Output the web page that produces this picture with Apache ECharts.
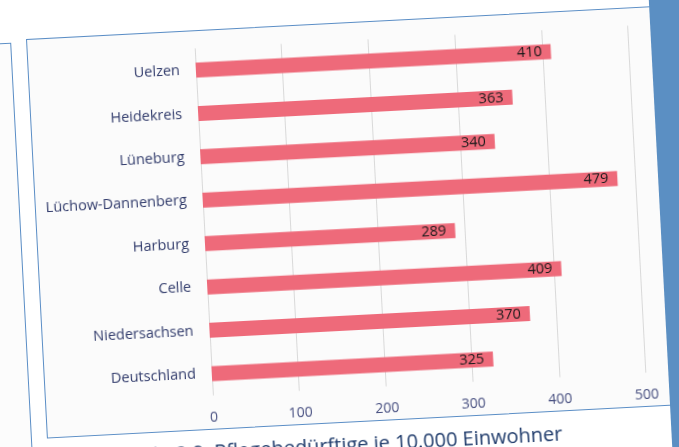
<!DOCTYPE html>
<html>
<head>
<meta charset="utf-8">
<script src="https://cdn.jsdelivr.net/npm/echarts@6/dist/echarts.min.js"></script>
<style>
  html, body { margin: 0; padding: 0; background: #ffffff; overflow: hidden; }
  body { width: 679px; height: 447px; position: relative; }
  /* the whole page is photographed slightly tilted */
  #sheet {
    position: absolute; left: -74px; top: -61px;
    width: 900px; height: 700px;
    transform-origin: 100px 100px;
    transform: rotate(-3deg);
  }
  #leftPanel {
    position: absolute; left: -200px; top: 103px; width: 283px; height: 430px;
    border: 1.5px solid #5b8ec6; background: #fcfcfc;
  }
  #frame {
    position: absolute; left: 100px; top: 100px; width: 640px; height: 400px;
    border: 1.5px solid #5b8ec6; background: #fbfbfb; box-sizing: border-box;
  }
  #chart { position: absolute; left: 0; top: 0; width: 900px; height: 700px; }
  #caption {
    position: absolute; right: 285px; top: 512px; white-space: nowrap;
    font-family: "Open Sans", sans-serif; font-size: 20px; line-height: 20px;
    color: #1f3b6b;
  }
  #band {
    position: absolute; left: 724px; top: 0; width: 200px; height: 700px;
    background: #5b8fc3;
  }
</style>
</head>
<body>
<div id="sheet">
  <div id="leftPanel"></div>
  <div id="frame"></div>
  <div id="chart"></div>
  <div id="caption">Abb. 2.9: Pflegebedürftige je 10.000 Einwohner</div>
  <div id="band"></div>
</div>
<script>
// Pflegebedürftige je 10.000 Einwohner
const regions = ['Uelzen', 'Heidekreis', 'Lüneburg', 'Lüchow-Dannenberg', 'Harburg', 'Celle', 'Niedersachsen', 'Deutschland'];
const careNeeds = [410, 363, 340, 479, 289, 409, 370, 325];
const axisMin = 0;
const axisMax = 500;
const axisStep = 100;

const chart = echarts.init(document.getElementById('chart'), null, { renderer: 'canvas' });
chart.setOption({
  backgroundColor: 'transparent',
  animation: false,
  grid: { left: 268, top: 118.3, width: 433.5, height: 347.4, containLabel: false },
  xAxis: {
    type: 'value', min: axisMin, max: axisMax, interval: axisStep,
    axisLine: { show: false }, axisTick: { show: false },
    splitLine: { show: true, lineStyle: { color: '#d9d9d9', width: 1 } },
    axisLabel: { margin: 15, color: '#474f80', fontSize: 14, fontFamily: 'Open Sans' }
  },
  yAxis: {
    type: 'category', data: regions, inverse: true,
    axisLine: { show: false }, axisTick: { show: false },
    axisLabel: { margin: 16, color: '#323c6c', fontSize: 14.5, fontFamily: 'Open Sans' }
  },
  series: [{
    type: 'bar', data: careNeeds, barWidth: 15,
    itemStyle: { color: '#ee6a7a' },
    label: {
      show: true, position: 'insideRight', distance: 9,
      color: '#1a1a1a', fontSize: 14.5, fontFamily: 'Open Sans'
    }
  }]
});
</script>
</body>
</html>
